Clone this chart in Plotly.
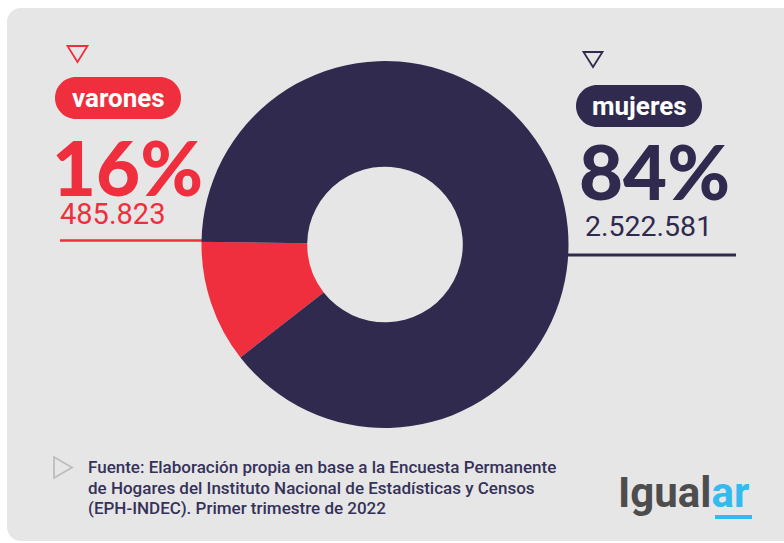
import plotly.graph_objects as go

# ---------------- data ----------------
categories = ["varones", "mujeres"]
population = [485823, 2522581]
# slice sizes as drawn in the reference donut (share of the circle, %)
drawn_share = [10.8, 89.2]
source_lines = [
    "Fuente: Elaboración propia en base a la Encuesta Permanente",
    "de Hogares del Instituto Nacional de Estadísticas y Censos",
    "(EPH-INDEC). Primer trimestre de 2022",
]

total = sum(population)
pct_labels = [f"{round(v / total * 100)}%" for v in population]
num_labels = [f"{v:,}".replace(",", ".") for v in population]

RED = "#ef2f3d"
NAVY = "#302a4e"
CARD = "#e6e6e6"
FONT = "Roboto"

W, H = 784, 543


def X(x):
    return x / W


def Y(y):
    return 1 - y / H


def rrect(x0, y0, x1, y1, r):
    k = 0.5523 * r
    p = [
        ("M", [(x0 + r, y0)]),
        ("L", [(x1 - r, y0)]),
        ("C", [(x1 - r + k, y0), (x1, y0 + r - k), (x1, y0 + r)]),
        ("L", [(x1, y1 - r)]),
        ("C", [(x1, y1 - r + k), (x1 - r + k, y1), (x1 - r, y1)]),
        ("L", [(x0 + r, y1)]),
        ("C", [(x0 + r - k, y1), (x0, y1 - r + k), (x0, y1 - r)]),
        ("L", [(x0, y0 + r)]),
        ("C", [(x0, y0 + r - k), (x0 + r - k, y0), (x0 + r, y0)]),
    ]
    s = ""
    for cmd, pts in p:
        s += cmd + " " + " ".join(f"{X(a):.5f},{Y(b):.5f}" for a, b in pts) + " "
    return s + "Z"


def poly(points):
    s = "M " + " L ".join(f"{X(a):.5f},{Y(b):.5f}" for a, b in points)
    return s + " Z"


fig = go.Figure()

cx, cy, r = 385, 244.5, 183.5
fig.add_trace(go.Pie(
    labels=categories,
    values=drawn_share,
    hole=0.424,
    sort=False,
    direction="clockwise",
    rotation=-128,
    marker=dict(colors=[RED, NAVY], line=dict(width=0)),
    textinfo="none",
    hoverinfo="label+percent",
    showlegend=False,
    domain=dict(x=[X(cx - r), X(cx + r)], y=[Y(cy + r), Y(cy - r)]),
))

shapes = [
    # card background
    dict(type="path", path=rrect(7, 8, 820, 541, 14), fillcolor=CARD,
         line=dict(width=0), layer="below"),
    # leader lines
    dict(type="line", x0=X(60), x1=X(260), y0=Y(240.5), y1=Y(240.5),
         line=dict(color=RED, width=2.5), layer="below"),
    dict(type="line", x0=X(520), x1=X(736), y0=Y(255), y1=Y(255),
         line=dict(color=NAVY, width=3), layer="below"),
    # pills
    dict(type="path", path=rrect(55, 77, 181, 119, 21), fillcolor=RED, line=dict(width=0)),
    dict(type="path", path=rrect(576, 85, 702, 127, 21), fillcolor=NAVY, line=dict(width=0)),
    # triangles
    dict(type="path", path=poly([(67.5, 46), (87.5, 46), (77.5, 62)]),
         line=dict(color=RED, width=1.8), fillcolor="rgba(0,0,0,0)"),
    dict(type="path", path=poly([(583.5, 52), (602.5, 52), (593, 67)]),
         line=dict(color=NAVY, width=1.8), fillcolor="rgba(0,0,0,0)"),
    dict(type="path", path=poly([(54, 457), (54, 478), (72, 467.5)]),
         line=dict(color="#bdbdbd", width=1.8), fillcolor="rgba(0,0,0,0)"),
    # logo underline
    dict(type="line", x0=X(715), x1=X(752), y0=Y(517), y1=Y(517),
         line=dict(color="#33bbef", width=4)),
]

ann = []


def add_text(x, y, text, size, color, anchor="left", weight="normal", family=FONT, height=None):
    a = dict(x=X(x), y=Y(y), xref="paper", yref="paper", text=text,
             showarrow=False, xanchor=anchor, yanchor="middle", align="left",
             font=dict(family=family, size=size, color=color, weight=weight))
    if height is not None:
        a["height"] = height
    ann.append(a)


# pill labels
add_text(118, 97.5, categories[0], 26, "white", anchor="center", weight="bold")
add_text(639, 105.5, categories[1], 26, "white", anchor="center", weight="bold")
# big percentages
add_text(50, 166.5, pct_labels[0], 76, RED, weight=900, family="Lato", height=64)
add_text(577, 169.5, pct_labels[1], 76, NAVY, weight=900, family="Lato", height=64)
# counts
add_text(58, 214.5, num_labels[0], 29, RED, height=28)
add_text(583, 225.5, num_labels[1], 28.5, NAVY, height=28)
# source
for i, line in enumerate(source_lines):
    add_text(86, 467 + 20.5 * i, line, 17, "#35325a", weight=500)
# logo
add_text(616, 492, "Igual<span style='color:#33bbef'>ar</span>", 42, "#4d4d4d", weight="bold")

fig.update_layout(
    width=W, height=H,
    margin=dict(l=0, r=0, t=0, b=0),
    paper_bgcolor="white",
    plot_bgcolor="white",
    shapes=shapes,
    annotations=ann,
)

fig.write_html("out.html", config={"displayModeBar": False},
               post_script="document.body.style.margin='0';")
